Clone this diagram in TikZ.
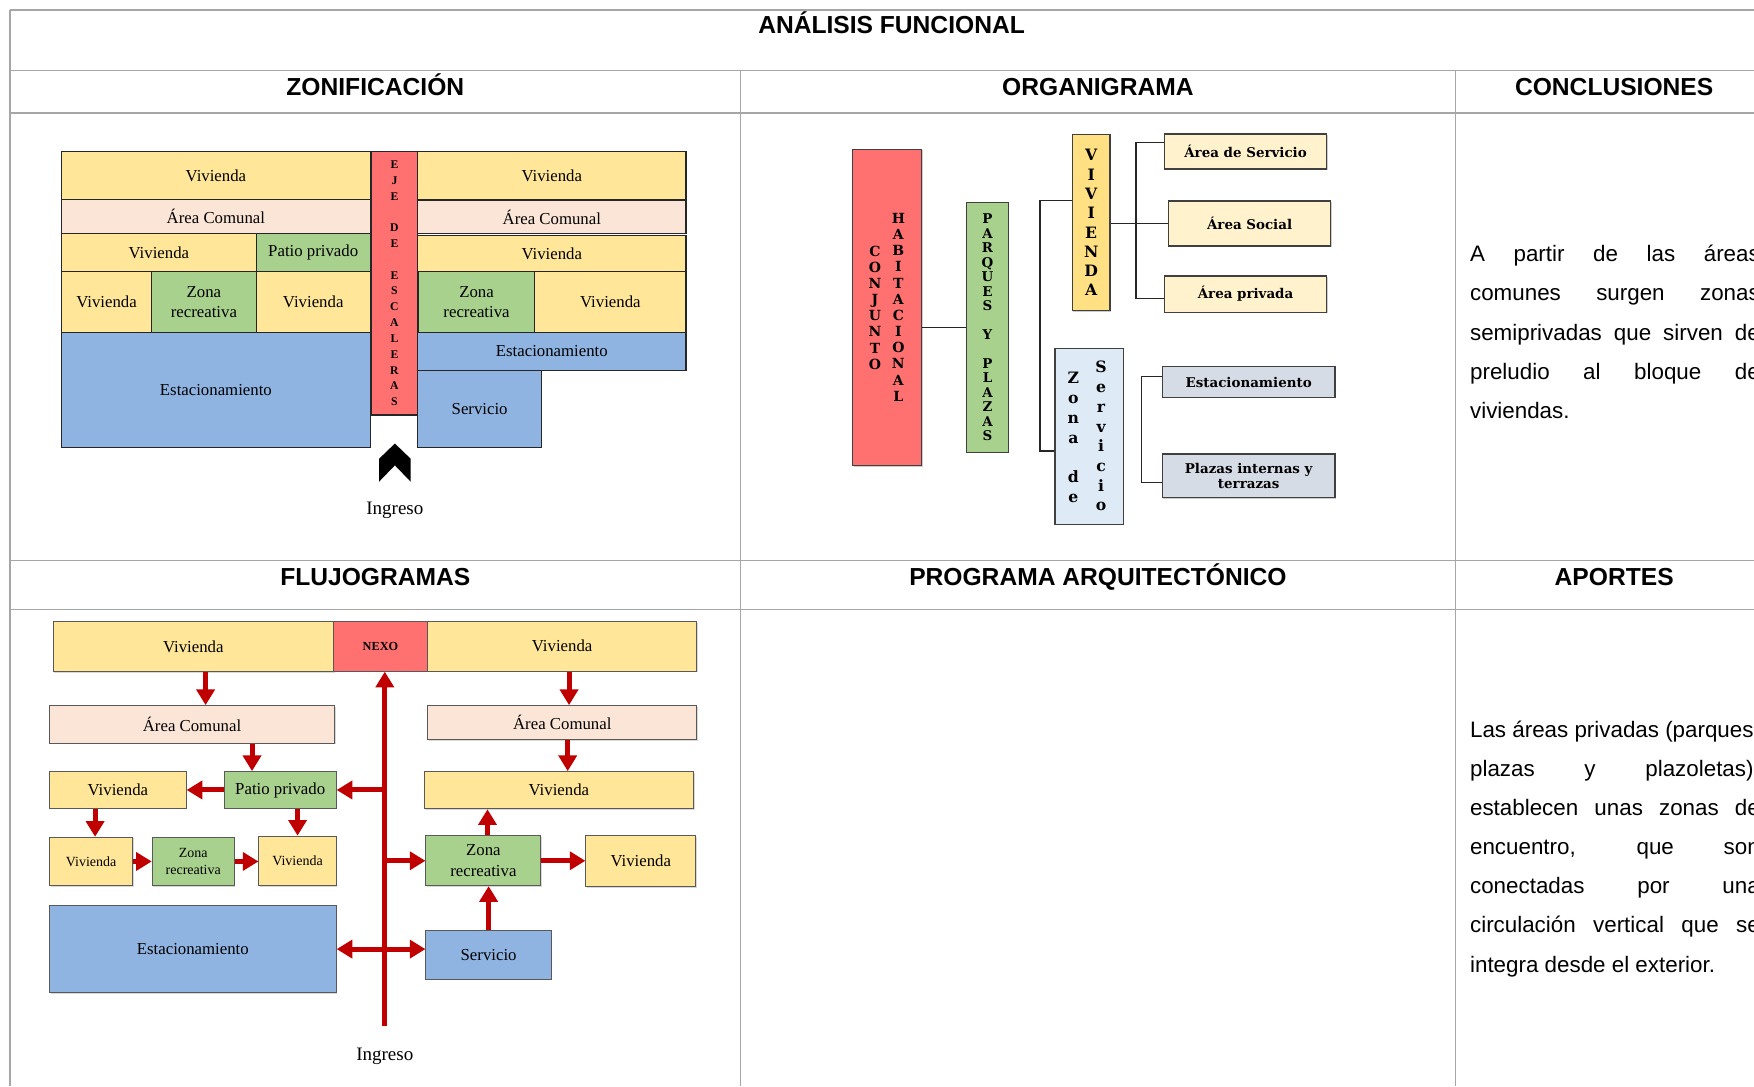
\documentclass[tikz,border=0pt]{standalone}
\usepackage{fontspec}
\setmainfont{Liberation Serif}
\newfontfamily\sansfam{Liberation Sans}
\newfontfamily\orgfam{DejaVu Serif}
\usetikzlibrary{arrows.meta,shadows}

\definecolor{viv}{HTML}{FFE699}
\definecolor{com}{HTML}{FBE5D6}
\definecolor{grn}{HTML}{A9D18E}
\definecolor{blu}{HTML}{8FB4E2}
\definecolor{rd}{HTML}{FF7171}
\definecolor{gold}{HTML}{FFE083}
\definecolor{cream}{HTML}{FFF2CC}
\definecolor{slate}{HTML}{D6DCE5}
\definecolor{ice}{HTML}{DEEBF7}
\definecolor{arrowred}{HTML}{C00000}
\definecolor{rulegray}{HTML}{A6A6A6}

\begin{document}
\begin{tikzpicture}[x=1pt,y=-1pt,
  wh/.style 2 args={minimum width=#1pt,minimum height=#2pt},
  cell/.style={inner sep=0pt,align=center},
  zb/.style={cell,draw=black!85,line width=1.1pt,font=\fontsize{15}{18}\selectfont},
  ob/.style={cell,draw=black!75,line width=1.1pt,
    drop shadow={shadow xshift=1pt,shadow yshift=-1pt,opacity=.4},
    font=\orgfam\bfseries\fontsize{12}{14}\selectfont},
  olet/.style={cell,font=\orgfam\bfseries\fontsize{12.5}{14.45}\selectfont},
  fb/.style={cell,draw=black!65,line width=.9pt,
    drop shadow={shadow xshift=1pt,shadow yshift=-1pt,opacity=.3},
    font=\fontsize{15}{18.5}\selectfont},
  fsmall/.style={font=\fontsize{12.5}{15.5}\selectfont},
  flow/.style={draw=arrowred,line width=4.5pt,-{Triangle[length=14pt,width=16pt]}},
  flowtwo/.style={draw=arrowred,line width=4.5pt,
    {Triangle[length=14pt,width=16pt]}-{Triangle[length=14pt,width=16pt]}},
  link/.style={draw=black!85,line width=1.3pt},
  hd/.style={font=\sansfam\bfseries\fontsize{22}{26}\selectfont,anchor=base,inner sep=0pt},
  body/.style={font=\sansfam\fontsize{20}{35}\selectfont,anchor=base west,inner sep=0pt},
  rule/.style={draw=rulegray,line width=1.4pt}]

\useasboundingbox (0,0) rectangle (1568,971);
\fill[white] (0,0) rectangle (1568,971);
\clip (0,0) rectangle (1568,971);

% ---------- table grid ----------
\draw[rule] (9,9) -- (1568,9);
\draw[rule] (9,9) -- (9,971);
\foreach \yy in {63,101,501,545} \draw[rule] (9,\yy) -- (1568,\yy);
\foreach \xx in {662,1301} \draw[rule] (\xx,63) -- (\xx,971);

% ---------- headers ----------
\node[hd] (hTit) at (797,30) {ANÁLISIS FUNCIONAL};
\node[hd] (hZon) at (335.5,85.5) {ZONIFICACIÓN};
\node[hd] (hOrg) at (981.5,85.5) {ORGANIGRAMA};
\node[hd] (hCon) at (1443,85.5) {CONCLUSIONES};
\node[hd] (hFlu) at (335.5,523.5) {FLUJOGRAMAS};
\node[hd] (hPro) at (981.5,523.5) {PROGRAMA ARQUITECTÓNICO};
\node[hd] (hApo) at (1443,523.5) {APORTES};

% ---------- zonificacion ----------
\node[zb,fill=viv,wh={276}{42.5}] (zv1) at (193,156.75) {Vivienda};
\node[zb,fill=com,wh={276}{31}] (zc1) at (193,193.5) {Área Comunal};
\node[zb,fill=viv,wh={174}{34}] (zv2) at (142,226) {Vivienda};
\node[zb,fill=grn,wh={102}{34}] (zp1) at (280,226) {Patio privado};
\node[zb,fill=viv,wh={80.5}{54}] (zv3) at (95.25,270) {Vivienda};
\node[zb,fill=grn,wh={93.5}{54}] (zr1) at (182.25,270) {Zona\\recreativa};
\node[zb,fill=viv,wh={102}{54}] (zv4) at (280,270) {Vivienda};
\node[zb,fill=blu,wh={276}{103}] (ze1) at (193,348.5) {Estacionamiento};
\node[zb,fill=rd,wh={41.3}{235.5},font=\bfseries\fontsize{10.5}{14.15}\selectfont] (zst) at (352.65,253.25)
  {E\\J\\E\\~\\D\\E\\~\\E\\S\\C\\A\\L\\E\\R\\A\\S};
\node[zb,fill=viv,wh={240}{42.5}] (zv5) at (493.3,156.75) {Vivienda};
\node[zb,fill=com,wh={240}{29.5}] (zc2) at (493.3,194.25) {Área Comunal};
\node[zb,fill=viv,wh={240}{32.5}] (zv6) at (493.3,226.75) {Vivienda};
\node[zb,fill=grn,wh={104}{54}] (zr2) at (426,270) {Zona\\recreativa};
\node[zb,fill=viv,wh={135.3}{54}] (zv7) at (545.65,270) {Vivienda};
\node[zb,fill=blu,wh={240}{34}] (ze2) at (493.3,314) {Estacionamiento};
\node[zb,fill=blu,wh={111}{69}] (zsv) at (428.8,365.5) {Servicio};
% entrance chevron
\fill[black] (353,396.5) -- (367,410) -- (367,430.5) -- (353,416) -- (339,430.5) -- (339,410) -- cycle;
\node[cell,font=\fontsize{17}{20}\selectfont] (zing) at (353,456) {Ingreso};

% ---------- organigrama ----------
\node[ob,fill=rd,wh={61.7}{282.8}] (ored) at (793.15,274.9) {};
\node[olet] (oconj) at (782.2,275) {C\\O\\N\\J\\U\\N\\T\\O};
\node[olet] (ohab) at (803.1,274.6) {H\\A\\B\\I\\T\\A\\C\\I\\O\\N\\A\\L};
\node[ob,fill=grn,wh={37.2}{223.5},font=\orgfam\bfseries\fontsize{12}{12.91}\selectfont] (ogrn) at (882.8,292.65)
  {P\\A\\R\\Q\\U\\E\\S\\~\\Y\\~\\P\\L\\A\\Z\\A\\S};
\node[ob,fill=gold,wh={33.7}{157.3},font=\orgfam\bfseries\fontsize{14}{17.24}\selectfont] (oviv) at (975.45,199.05)
  {V\\I\\V\\I\\E\\N\\D\\A};
\node[ob,fill=ice,wh={61.1}{157}] (ozon) at (973.65,390.2) {};
\node[olet,font=\orgfam\bfseries\fontsize{14}{17.63}\selectfont] (ozona) at (959.5,391.1) {Z\\o\\n\\a\\~\\d\\e};
\node[olet,font=\orgfam\bfseries\fontsize{14}{17.6}\selectfont] (ozonb) at (984.3,389.9) {S\\e\\r\\v\\i\\c\\i\\o};
\node[ob,fill=cream,wh={145.1}{31.3}] (oa1) at (1113.45,135.45) {Área de Servicio};
\node[ob,fill=cream,wh={145.1}{40.2}] (oa2) at (1117.05,199.8) {Área Social};
\node[ob,fill=cream,wh={145.1}{32.5}] (oa3) at (1113.45,262.95) {Área privada};
\node[ob,fill=slate,wh={154.5}{27.4}] (oe1) at (1116.25,341.5) {Estacionamiento};
\node[ob,fill=slate,wh={154.5}{39}] (oe2) at (1116.25,425.4) {Plazas internas y\\terrazas};

\draw[link] (ored.east |- ogrn.west) -- (ogrn.west);
\coordinate (b1) at (929.7,179.4);
\coordinate (b2) at (929.7,403.2);
\draw[link] (oviv.west |- b1) -- (b1) -- (b2) -- (ozon.west |- b2);
\draw[link] (oviv.east |- oa2.west) -- (oa2.west);
\coordinate (c1) at (1015.5,127.5);
\coordinate (c2) at (1015.5,266.7);
\draw[link] (oa1.west |- c1) -- (c1) -- (c2) -- (oa3.west |- c2);
\coordinate (d1) at (1020.6,336.7);
\coordinate (d2) at (1020.6,431.2);
\draw[link] (oe1.west |- d1) -- (d1) -- (d2) -- (oe2.west |- d2);

% ---------- flujogramas ----------
\node[fb,fill=viv,wh={250.8}{44.4}] (fv1) at (172.8,578.2) {Vivienda};
\node[fb,fill=rd,wh={83.8}{44.5},font=\bfseries\fontsize{11}{13}\selectfont] (fnx) at (340.1,577.75) {NEXO};
\node[fb,fill=viv,wh={241}{44.5}] (fv2) at (502.5,577.75) {Vivienda};
\node[fb,fill=com,wh={254.7}{33.7}] (fc1) at (171.65,647.65) {Área Comunal};
\node[fb,fill=com,wh={240.7}{30.7}] (fc2) at (502.65,646.15) {Área Comunal};
\node[fb,fill=viv,wh={122.1}{32.8}] (fv3) at (105.35,706.2) {Vivienda};
\node[fb,fill=grn,wh={100}{32.8}] (fp1) at (250.5,706.2) {Patio privado};
\node[fb,fill=viv,wh={240.8}{33.2}] (fv4) at (499.6,706.4) {Vivienda};
\node[fb,fsmall,fill=viv,wh={74.4}{43.2}] (fv5) at (81.5,770.1) {Vivienda};
\node[fb,fsmall,fill=grn,wh={73.3}{43.2}] (fr1) at (172.75,770.1) {Zona\\recreativa};
\node[fb,fsmall,fill=viv,wh={69}{44.2}] (fv6) at (266,769.6) {Vivienda};
\node[fb,fill=grn,wh={102.7}{44.4}] (fr2) at (432.15,769.5) {Zona\\recreativa};
\node[fb,fill=viv,wh={98.1}{45.2}] (fv7) at (572.85,769.9) {Vivienda};
\node[fb,fill=blu,wh={256.2}{77.7}] (fe1) at (172.4,848.45) {Estacionamiento};
\node[fb,fill=blu,wh={112}{43.5}] (fsv) at (436.8,853.65) {Servicio};
\node[cell,font=\fontsize{17}{20}\selectfont] (fing) at (344,944.6) {Ingreso};

\coordinate (fin) at (344,917);
\draw[flow] (fin) -- (fin |- fnx.south);
\draw[flow] (fin |- fp1.east) -- (fp1.east);
\draw[flow] (fin |- fr2.west) -- (fr2.west);
\draw[flowtwo] (fe1.east) -- (fsv.west |- fe1.east);

\draw[flow] ([xshift=11pt]fv1.south) -- ([xshift=11pt]fv1.south |- fc1.north);
\draw[flow] ([xshift=6.2pt]fv2.south) -- ([xshift=6.2pt]fv2.south |- fc2.north);
\draw[flow] ([xshift=-25.2pt]fp1.north |- fc1.south) -- ([xshift=-25.2pt]fp1.north);
\draw[flow] ([xshift=7.9pt]fv4.north |- fc2.south) -- ([xshift=7.9pt]fv4.north);
\draw[flow] (fp1.west) -- (fv3.east);
\draw[flow] ([xshift=3.5pt]fv5.north |- fv3.south) -- ([xshift=3.5pt]fv5.north);
\draw[flow] (fv6.north |- fp1.south) -- (fv6.north);
\draw[flow] (fv5.east) -- (fr1.west);
\draw[flow] (fr1.east) -- (fv6.west |- fr1.east);
\draw[flow] ([xshift=3.65pt]fr2.north) -- ([xshift=3.65pt]fr2.north |- fv4.south);
\draw[flow] (fsv.north) -- (fsv.north |- fr2.south);
\draw[flow] (fr2.east) -- (fv7.west |- fr2.east);

% ---------- text columns (justified, running past the right edge) ----------
\node[body] (tCon) at (1314,234) {\parbox[t]{259pt}{%
\makebox[259pt][s]{A partir de las áreas}\\
\makebox[259pt][s]{comunes surgen zonas}\\
\makebox[259pt][s]{semiprivadas que sirven de}\\
\makebox[259pt][s]{preludio al bloque de}\\
viviendas.}};

\node[body] (tApo) at (1314,659) {\parbox[t]{259pt}{%
\makebox[259pt][s]{Las áreas privadas (parques,}\\
\makebox[259pt][s]{plazas y plazoletas),}\\
\makebox[259pt][s]{establecen unas zonas de}\\
\makebox[259pt][s]{encuentro, que son}\\
\makebox[259pt][s]{conectadas por una}\\
\makebox[259pt][s]{circulación vertical que se}\\
integra desde el exterior.}};

\end{tikzpicture}
\end{document}
